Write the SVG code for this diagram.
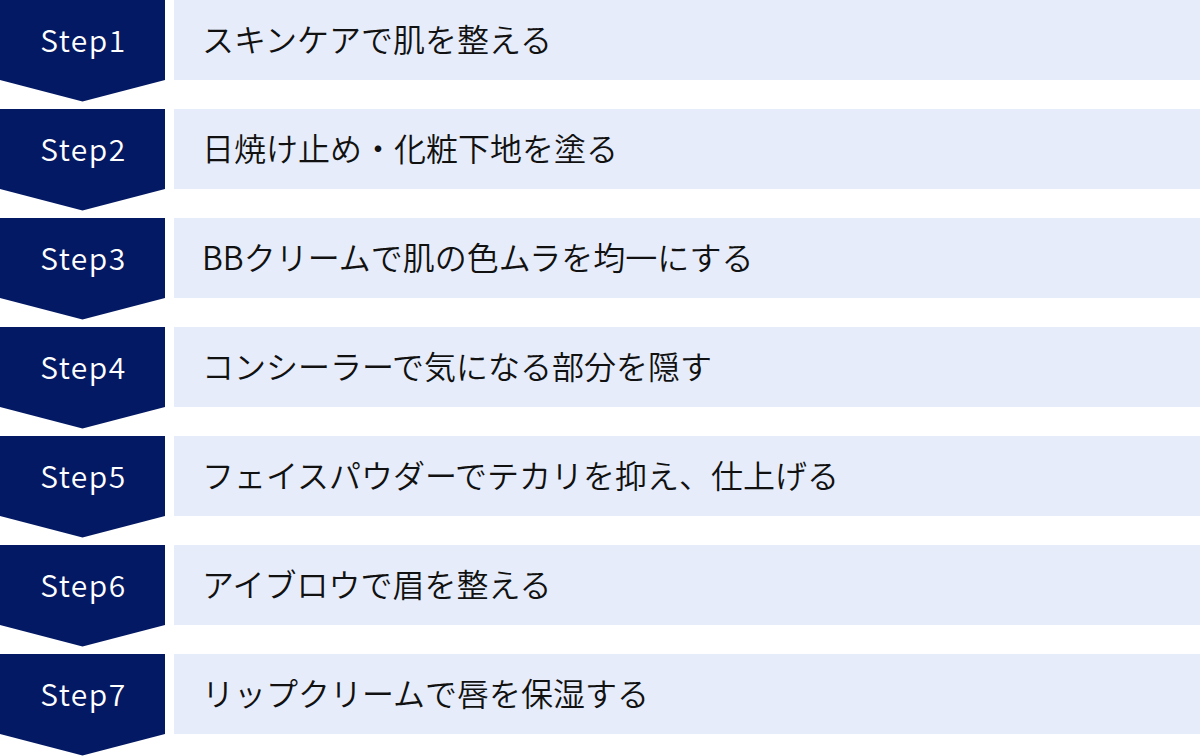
<svg xmlns="http://www.w3.org/2000/svg" width="1200" height="756" viewBox="0 0 1200 756">
<style>
.badge{fill:#041963}
.bar{fill:#E6ECF9}
.lbl{font-family:"Noto Sans CJK JP","Noto Sans",sans-serif;font-size:30px;font-weight:350;fill:#fff;text-anchor:middle;letter-spacing:1.5px}
.txt{font-family:"Noto Sans CJK JP","Noto Sans",sans-serif;font-size:32px;font-weight:350;fill:#111}
</style>
<defs>
<path id="chev" d="M0 0H165V80L82.5 101.5L0 80Z"/>
</defs>
<g id="step1"><use href="#chev" class="badge"/><rect class="bar" x="174" y="0" width="1026" height="80"/><text class="lbl" x="83.5" y="52">Step1</text><text class="txt" x="202" y="52">スキンケアで肌を整える</text></g>
<g id="step2" transform="translate(0,109)"><use href="#chev" class="badge"/><rect class="bar" x="174" y="0" width="1026" height="80"/><text class="lbl" x="83.5" y="52">Step2</text><text class="txt" x="202" y="52">日焼け止め・化粧下地を塗る</text></g>
<g id="step3" transform="translate(0,218)"><use href="#chev" class="badge"/><rect class="bar" x="174" y="0" width="1026" height="80"/><text class="lbl" x="83.5" y="52">Step3</text><text class="txt" x="202" y="52">BBクリームで肌の色ムラを均一にする</text></g>
<g id="step4" transform="translate(0,327)"><use href="#chev" class="badge"/><rect class="bar" x="174" y="0" width="1026" height="80"/><text class="lbl" x="83.5" y="52">Step4</text><text class="txt" x="202" y="52">コンシーラーで気になる部分を隠す</text></g>
<g id="step5" transform="translate(0,436)"><use href="#chev" class="badge"/><rect class="bar" x="174" y="0" width="1026" height="80"/><text class="lbl" x="83.5" y="52">Step5</text><text class="txt" x="202" y="52">フェイスパウダーでテカリを抑え、仕上げる</text></g>
<g id="step6" transform="translate(0,545)"><use href="#chev" class="badge"/><rect class="bar" x="174" y="0" width="1026" height="80"/><text class="lbl" x="83.5" y="52">Step6</text><text class="txt" x="202" y="52">アイブロウで眉を整える</text></g>
<g id="step7" transform="translate(0,654)"><use href="#chev" class="badge"/><rect class="bar" x="174" y="0" width="1026" height="80"/><text class="lbl" x="83.5" y="52">Step7</text><text class="txt" x="202" y="52">リップクリームで唇を保湿する</text></g>
</svg>
